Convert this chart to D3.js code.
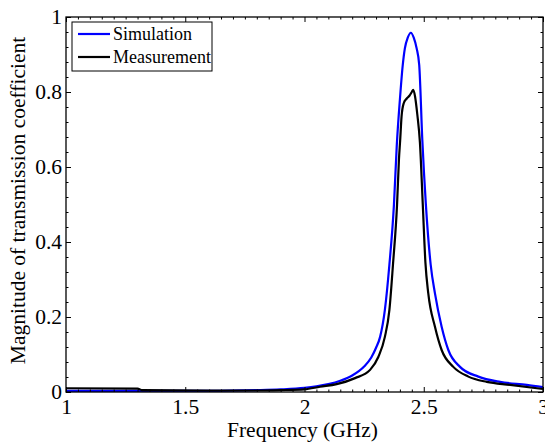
<!DOCTYPE html>
<html>
<head>
<meta charset="utf-8">
<script src="https://cdn.jsdelivr.net/npm/d3@7"></script>
<style>
  body { margin: 0; background: #fff; }
  .axis path, .axis line { stroke: #000; }
</style>
</head>
<body>
<svg id="chart"></svg>
<script>
// values
const simFreq = [1.0, 1.2, 1.4, 1.6, 1.8, 1.9, 2.0, 2.05, 2.1, 2.15, 2.2, 2.25, 2.28, 2.3, 2.317, 2.337, 2.356, 2.375, 2.387, 2.4, 2.412, 2.421, 2.433, 2.446, 2.458, 2.47, 2.481, 2.494, 2.509, 2.529, 2.547, 2.575, 2.603, 2.652, 2.729, 2.82, 2.932, 3.0];
const simMag = [0.003, 0.003, 0.003, 0.003, 0.005, 0.007, 0.011, 0.015, 0.021, 0.03, 0.044, 0.068, 0.092, 0.118, 0.147, 0.219, 0.34, 0.499, 0.659, 0.78, 0.872, 0.917, 0.945, 0.958, 0.945, 0.917, 0.872, 0.672, 0.499, 0.34, 0.263, 0.174, 0.112, 0.067, 0.041, 0.027, 0.019, 0.013];

const measFreq = [1.0, 1.3, 1.32, 1.6, 1.8, 1.9, 2.0, 2.065, 2.135, 2.212, 2.275, 2.31, 2.337, 2.356, 2.371, 2.388, 2.396, 2.401, 2.407, 2.416, 2.428, 2.44, 2.45, 2.456, 2.463, 2.473, 2.484, 2.496, 2.507, 2.519, 2.547, 2.575, 2.624, 2.687, 2.764, 2.862, 3.0];
const measMag = [0.01, 0.009, 0.005, 0.004, 0.004, 0.005, 0.007, 0.014, 0.021, 0.037, 0.059, 0.094, 0.147, 0.219, 0.34, 0.499, 0.62, 0.67, 0.735, 0.77, 0.782, 0.79, 0.8, 0.806, 0.79, 0.74, 0.665, 0.499, 0.345, 0.263, 0.174, 0.112, 0.067, 0.041, 0.027, 0.019, 0.008];

const xTicks = [1, 1.5, 2, 2.5, 3];
const xTickLabels = ['1', '1.5', '2', '2.5', '3'];
const yTicks = [0, 0.2, 0.4, 0.6, 0.8, 1];
const yTickLabels = ['0', '0.2', '0.4', '0.6', '0.8', '1'];
const seriesNames = ['Simulation', 'Measurement'];

const FONT = "'Liberation Serif', 'Times New Roman', Times, serif";
const FS = 21.5;
const W = 545, H = 446;
const margin = { left: 66, right: 2, top: 17, bottom: 54 };
const innerW = W - margin.left - margin.right;
const innerH = H - margin.top - margin.bottom;

const svg = d3.select('#chart').attr('width', W).attr('height', H);
const g = svg.append('g').attr('transform', `translate(${margin.left},${margin.top})`);

const x = d3.scaleLinear().domain([1, 3]).range([0, innerW]);
const y = d3.scaleLinear().domain([0, 1]).range([innerH, 0]);

const xMinor = d3.range(1, 3.0001, 0.05).filter((v) => xTicks.every((t) => Math.abs(t - v) > 1e-6));
const yMinor = d3.range(0, 1.0001, 0.04).filter((v) => yTicks.every((t) => Math.abs(t - v) > 1e-6));

// curves
const line = d3
  .line()
  .x((d) => x(d[0]))
  .y((d) => y(d[1]))
  .curve(d3.curveMonotoneX);

const series = [
  { name: seriesNames[0], color: '#0000ff', pts: d3.zip(simFreq, simMag) },
  { name: seriesNames[1], color: '#000000', pts: d3.zip(measFreq, measMag) },
];

g.append('clipPath')
  .attr('id', 'clip')
  .append('rect')
  .attr('width', innerW)
  .attr('height', innerH + 2)
  .attr('y', -1);

g.append('g')
  .attr('clip-path', 'url(#clip)')
  .selectAll('path')
  .data(series)
  .enter()
  .append('path')
  .attr('fill', 'none')
  .attr('stroke', (d) => d.color)
  .attr('stroke-width', 2.2)
  .attr('stroke-linejoin', 'round')
  .attr('d', (d) => line(d.pts));

// axes, ticks point inward on all four sides
function addAxis(axisFn, scale, ticks, size, transform, labels) {
  const a = axisFn(scale)
    .tickValues(ticks)
    .tickSizeInner(-size)
    .tickSizeOuter(0)
    .tickPadding(size + 6)
    .tickFormat(labels ? (d, i) => labels[i] : '');
  const sel = g
    .append('g')
    .attr('class', 'axis')
    .attr('transform', transform)
    .call(a)
    .attr('font-family', FONT)
    .attr('font-size', FS);
  sel.select('.domain').remove();
  sel.selectAll('text').attr('fill', '#000');
  return sel;
}

addAxis(d3.axisBottom, x, xMinor, 2.5, `translate(0,${innerH})`);
addAxis(d3.axisTop, x, xMinor, 2.5, 'translate(0,0)');
addAxis(d3.axisLeft, y, yMinor, 2.5, 'translate(0,0)');
addAxis(d3.axisRight, y, yMinor, 2.5, `translate(${innerW},0)`);

const xb = addAxis(d3.axisBottom, x, xTicks, 5, `translate(0,${innerH})`, xTickLabels);
xb.selectAll('text').attr('dy', '0.62em').attr('y', 8.5);
addAxis(d3.axisTop, x, xTicks, 5, 'translate(0,0)');
const yl = addAxis(d3.axisLeft, y, yTicks, 5, 'translate(0,0)', yTickLabels);
yl.selectAll('text').attr('x', -4);
addAxis(d3.axisRight, y, yTicks, 5, `translate(${innerW},0)`);

g.append('rect')
  .attr('width', innerW)
  .attr('height', innerH)
  .attr('fill', 'none')
  .attr('stroke', '#000')
  .attr('stroke-width', 1.3);

// axis titles
svg.append('text')
  .attr('x', margin.left + innerW / 2 - 2)
  .attr('y', 436.5)
  .attr('text-anchor', 'middle')
  .attr('font-family', FONT)
  .attr('font-size', FS)
  .text('Frequency (GHz)');

svg.append('text')
  .attr('transform', `translate(25,${margin.top + innerH / 2 - 4}) rotate(-90)`)
  .attr('text-anchor', 'middle')
  .attr('font-family', FONT)
  .attr('font-size', FS)
  .text('Magnitude of transmission coefficient');

// legend
const legend = svg.append('g').attr('transform', 'translate(72,22)');
legend.append('rect')
  .attr('width', 140)
  .attr('height', 49)
  .attr('fill', '#fff')
  .attr('stroke', '#000')
  .attr('stroke-width', 1);

const item = legend
  .selectAll('.item')
  .data(series)
  .enter()
  .append('g')
  .attr('class', 'item')
  .attr('transform', (d, i) => `translate(0,${12 + i * 23})`);

item.append('line')
  .attr('x1', 6)
  .attr('x2', 38)
  .attr('stroke', (d) => d.color)
  .attr('stroke-width', 2.2);

item.append('text')
  .attr('x', 41)
  .attr('y', 6)
  .attr('font-family', FONT)
  .attr('font-size', 18)
  .text((d) => d.name);
</script>
</body>
</html>
